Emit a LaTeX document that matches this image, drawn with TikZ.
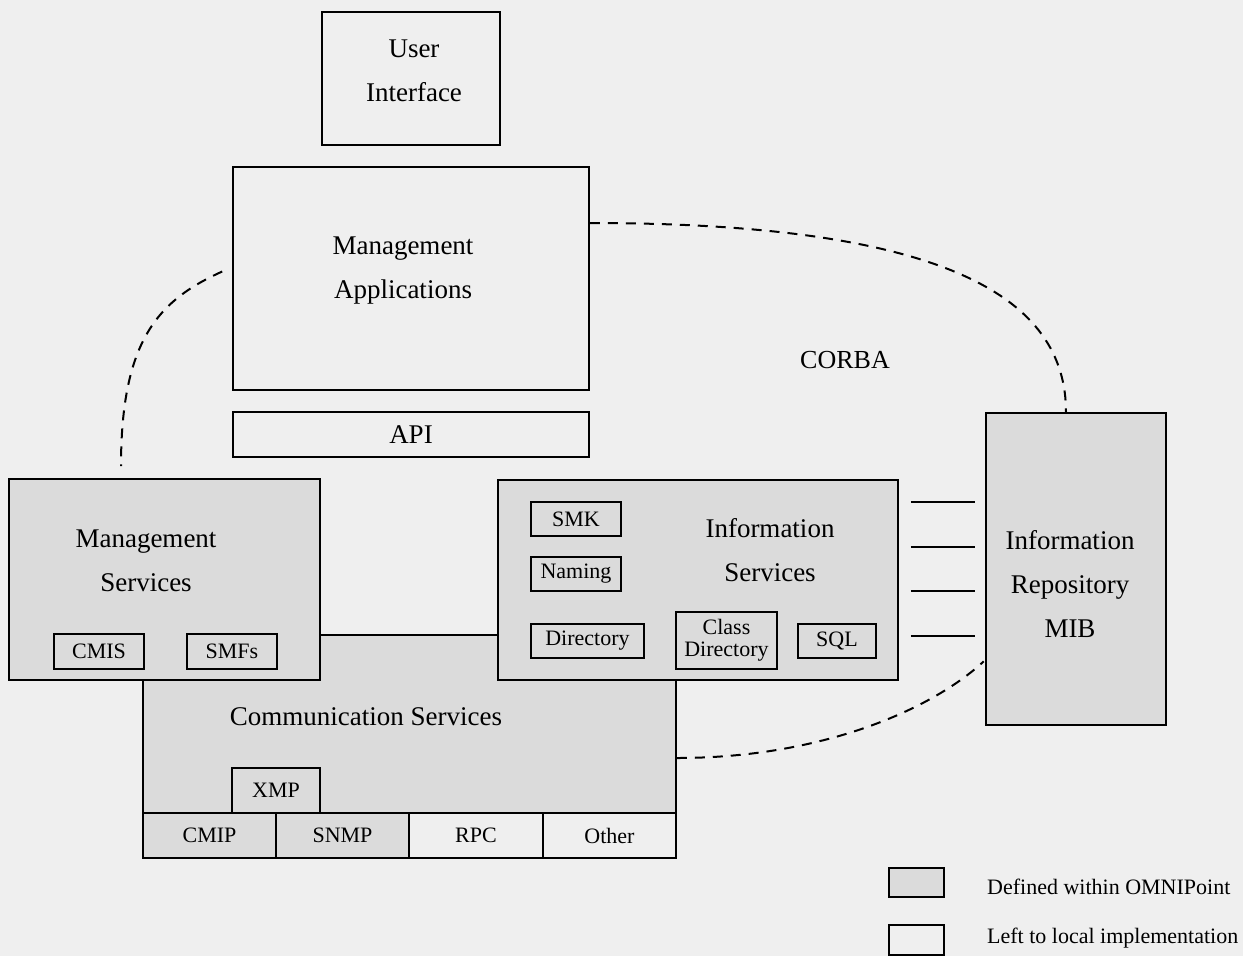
\documentclass[tikz,border=0pt]{standalone}
\usepackage{fontspec}
\setmainfont{Liberation Serif}
\definecolor{paper}{RGB}{239,239,239}
\definecolor{shade}{RGB}{219,219,219}
\begin{document}
\begin{tikzpicture}[x=1pt,y=-1pt,
  box/.style={draw=black, line width=1.6pt, inner sep=0pt, anchor=center},
  plainbox/.style={box, fill=paper},
  shadedbox/.style={box, fill=shade},
  big/.style={font=\fontsize{27}{44}\selectfont, align=center, inner sep=0pt},
  small/.style={font=\fontsize{22}{22}\selectfont, align=center},
  legendtext/.style={font=\fontsize{22}{26}\selectfont, anchor=west, inner sep=0pt},
  link/.style={line width=1.6pt},
  corba/.style={line width=2pt, dash pattern=on 10pt off 8pt},
]
% page
\fill[paper] (0,0) rectangle (1243,956);
\useasboundingbox (0,0) rectangle (1243,956);

% upper stack
\node[plainbox, minimum width=178, minimum height=133] (ui) at (411,78.5) {};
\node[big] (uitext) at (414,70.5) {User\\Interface};
\node[plainbox, minimum width=356, minimum height=223] (ma) at (411,278.5) {};
\node[big] (matext) at (403,270.5) {Management\\Applications};
\node[plainbox, minimum width=356, minimum height=45, font=\fontsize{27}{30}\selectfont] (api) at (411,434.5) {API};

% communication services (behind the two service blocks)
\node[shadedbox, minimum width=533, minimum height=178] (comm) at (409.5,724) {};
\node[big] (commtext) at (366,717) {Communication Services};
\node[shadedbox, minimum width=88, minimum height=45, small] (xmp) at (276,790.5) {XMP};

% protocol row
\node[shadedbox, minimum width=133, minimum height=45, small] (cmip) at (209.5,835.5) {CMIP};
\node[shadedbox, minimum width=133, minimum height=45, small] (snmp) at (342.5,835.5) {SNMP};
\node[plainbox, minimum width=134, minimum height=45, small] (rpc) at (476,835.5) {RPC};
\node[plainbox, minimum width=133, minimum height=45, small] (other) at (609.5,835.5) {Other};

% management services
\node[shadedbox, minimum width=311, minimum height=201] (ms) at (164.5,579.5) {};
\node[big] (mstext) at (146,560.5) {Management\\Services};
\node[shadedbox, minimum width=90, minimum height=35, small] (cmis) at (99,651.5) {CMIS};
\node[shadedbox, minimum width=90, minimum height=35, small] (smfs) at (232,651.5) {SMFs};

% information services
\node[shadedbox, minimum width=400, minimum height=200] (is) at (698,580) {};
\node[big] (istext) at (770,550) {Information\\Services};
\node[shadedbox, minimum width=90, minimum height=34, small] (smk) at (576,519) {SMK};
\node[shadedbox, minimum width=90, minimum height=34, small] (naming) at (576,574) {Naming};
\node[shadedbox, minimum width=113, minimum height=34, small] (dir) at (587.5,641) {Directory};
\node[shadedbox, minimum width=101, minimum height=57, small, inner sep=0pt] (cdir) at (726.5,640.5) {Class\\Directory};
\node[shadedbox, minimum width=78, minimum height=34, small] (sql) at (837,641) {SQL};

% information repository
\node[shadedbox, minimum width=180, minimum height=312] (repo) at (1076,569) {};
\node[big] (repotext) at (1070,584.5) {Information\\Repository\\MIB};

% CORBA label
\node[font=\fontsize{26}{30}\selectfont, inner sep=0pt] (corbatext) at (845,360) {CORBA};

% links between information services and the repository
\foreach \dy in {78,33,-11,-56}{
  \draw[link, shorten <=12pt, shorten >=10pt]
    ([yshift=\dy pt]is.east) -- ([yshift=\dy pt]is.east -| repo.west);
}

% CORBA connections
\draw[corba] ([yshift=55.5pt]ma.east) .. controls +(362,0) and +(0,-112) .. ([xshift=-10pt]repo.north);
\draw[corba, shorten <=11pt, shorten >=12pt]
  ([yshift=11.5pt]ma.west) .. controls +(-73,33) and +(0,-139) .. ([xshift=-43.5pt]ms.north);
\draw[corba, shorten >=2pt]
  ([yshift=-34pt]comm.east) .. controls +(144,0) and +(-54,50) .. ([yshift=-91pt]repo.west);

% legend
\node[shadedbox, minimum width=55, minimum height=29] (legshade) at (916.5,882.5) {};
\node[plainbox, minimum width=55, minimum height=30] (legplain) at (916.5,940) {};
\node[legendtext] (legshadetext) at (987,887) {Defined within OMNIPoint};
\node[legendtext] (legplaintext) at (987,938) {Left to local implementation};
\end{tikzpicture}
\end{document}
